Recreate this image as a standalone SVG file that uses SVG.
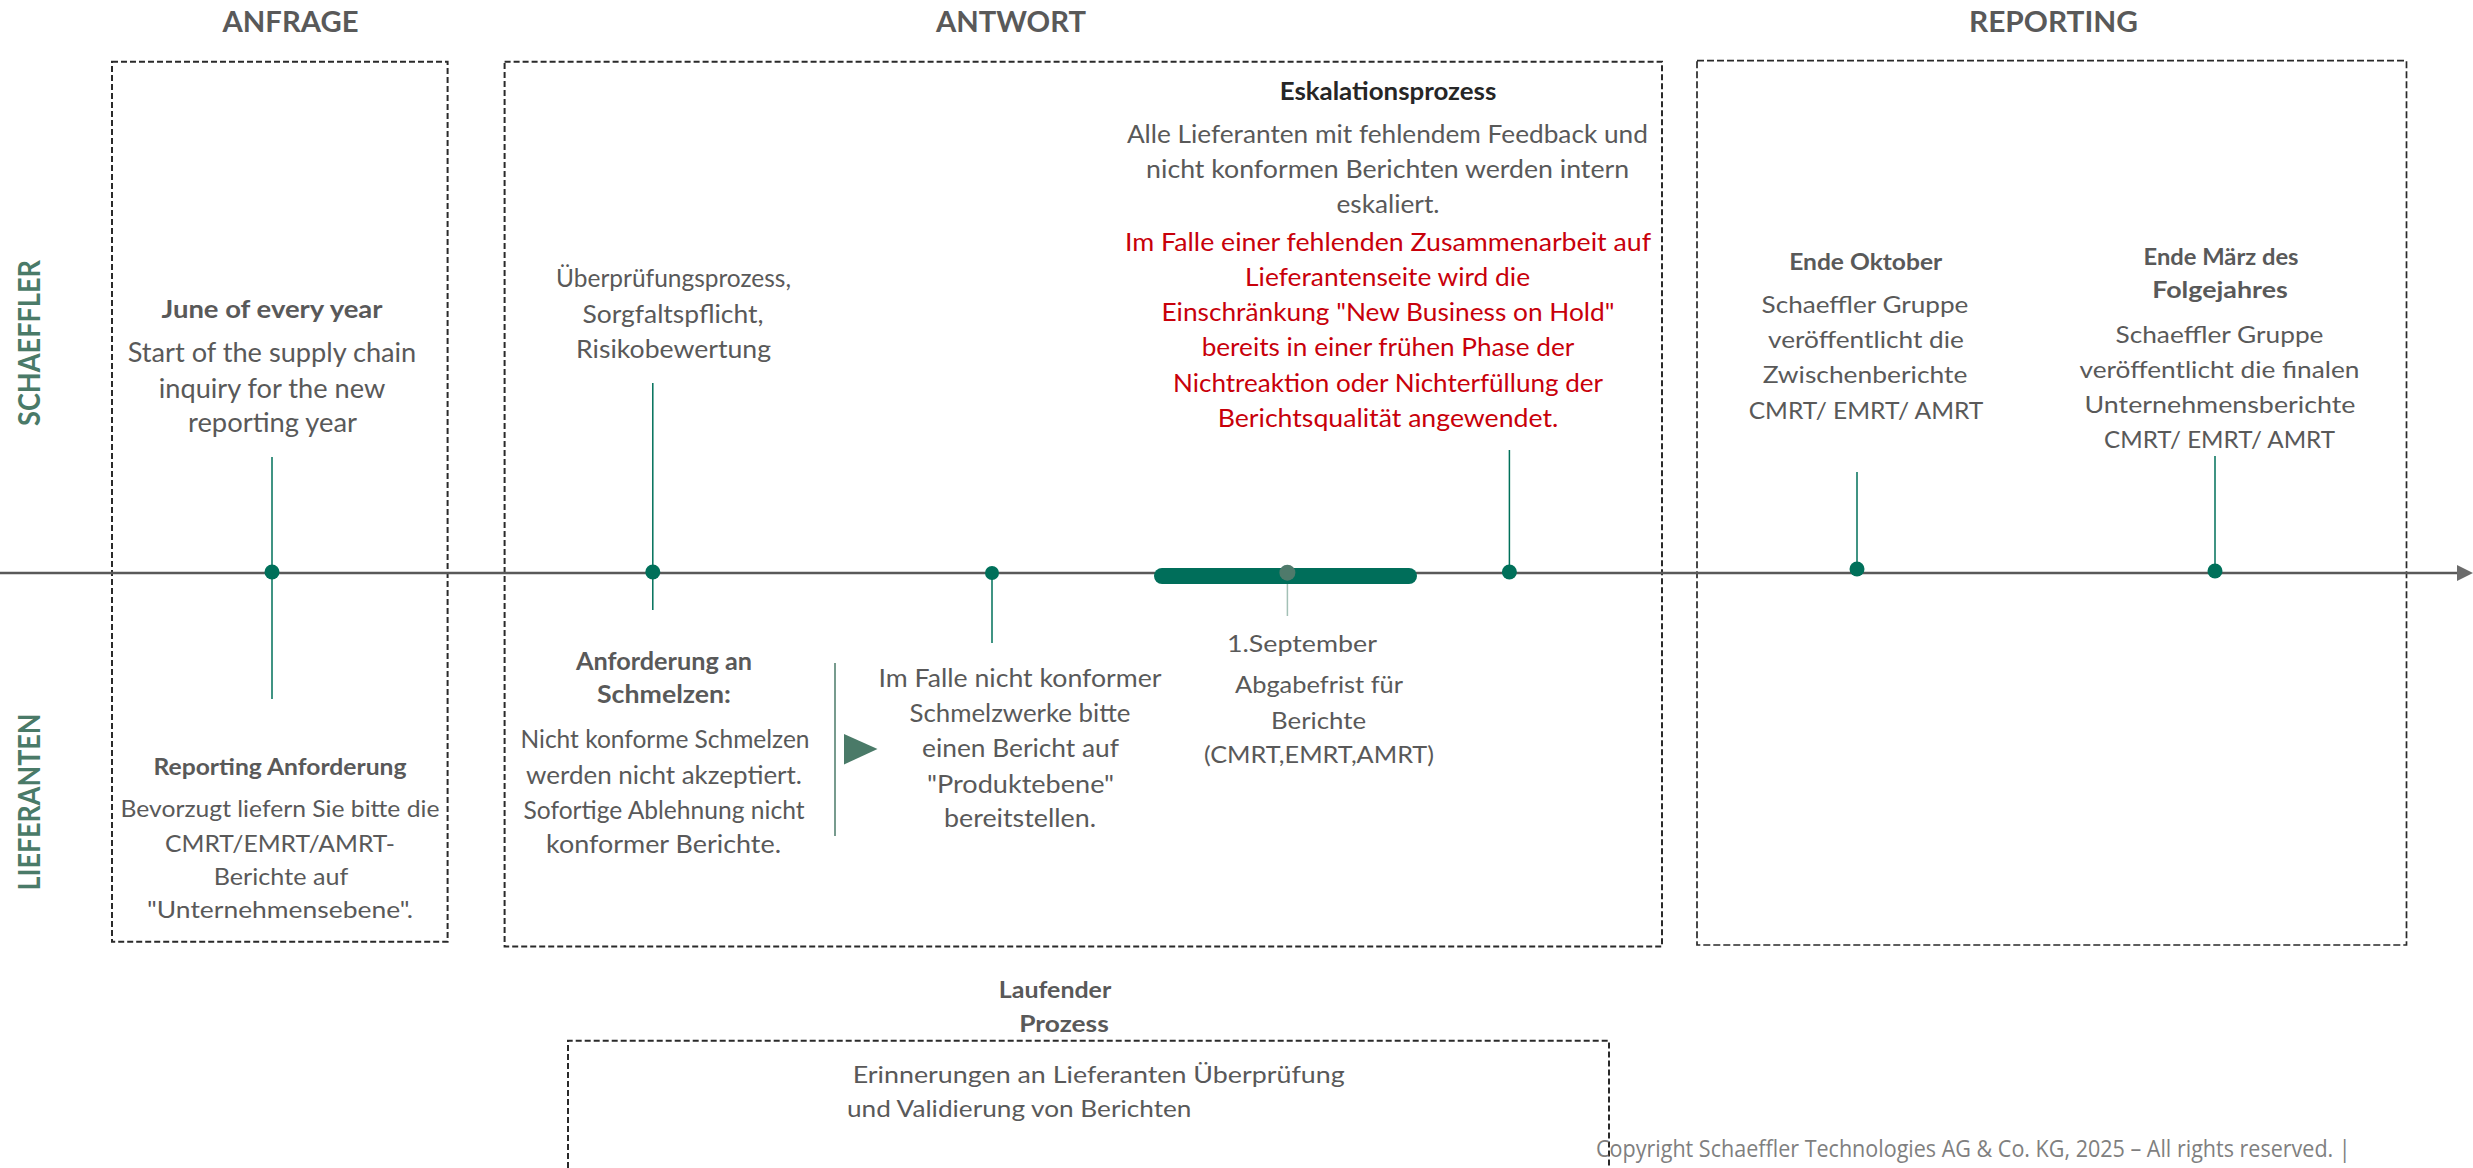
<svg xmlns="http://www.w3.org/2000/svg" width="2473" height="1168" viewBox="0 0 2473 1168">
<style>
text{font-family:Lato,"Liberation Sans",sans-serif;fill:#595959;text-anchor:middle}
.h{font-size:28px;font-weight:700}
.side{font-size:30px;font-weight:700;fill:#4a7a68}
.t{font-size:24.5px}
.ts{font-size:23.5px}
.b{font-weight:700}
.dk{fill:#262626}
.red{fill:#c8000a}
.l{text-anchor:start}
.box{fill:none;stroke:#2a2a2a;stroke-width:2;stroke-dasharray:6 3}
.stem{stroke:#00705a;stroke-width:1.5;fill:none}
.dot{fill:#00705a}
.copy{font-family:"Open Sans","Liberation Sans",sans-serif;font-size:23px;fill:#7f7f7f;text-anchor:start}
</style>

<g id="headers">
<text class="h" x="290.5" y="32" textLength="136" lengthAdjust="spacingAndGlyphs">ANFRAGE</text>
<text class="h" x="1011" y="32" textLength="150" lengthAdjust="spacingAndGlyphs">ANTWORT</text>
<text class="h" x="2053.5" y="32" textLength="169" lengthAdjust="spacingAndGlyphs">REPORTING</text>
<text class="side" transform="translate(39.5,343) rotate(-90)" textLength="166" lengthAdjust="spacingAndGlyphs">SCHAEFFLER</text>
<text class="side" transform="translate(39.5,802) rotate(-90)" textLength="177" lengthAdjust="spacingAndGlyphs">LIEFERANTEN</text>
</g>

<g id="phase-boxes">
<rect id="box-anfrage" class="box" x="112" y="61.7" width="335.6" height="880"/>
<rect id="box-antwort" class="box" x="504.6" y="61.7" width="1157.4" height="884.8"/>
<rect id="box-reporting" class="box" x="1697" y="60.7" width="709.5" height="884.3" style="stroke-width:1.7;stroke-dasharray:7 3"/>
<path id="box-ongoing" class="box" d="M568,1168 V1040.7 H1609 V1168"/>
</g>

<g id="connectors">
<line x1="0" y1="573" x2="2459" y2="573" stroke="#595959" stroke-width="2.6"/>
<polygon points="2457,565 2473,573 2457,581" fill="#6b6b6b"/>
<line class="stem" x1="272" y1="457" x2="272" y2="699"/>
<line class="stem" x1="652.8" y1="383" x2="652.8" y2="610"/>
<line class="stem" x1="992" y1="573" x2="992" y2="643"/>
<line class="stem" x1="1509.4" y1="450" x2="1509.4" y2="572"/>
<line class="stem" x1="1857" y1="472" x2="1857" y2="569"/>
<line class="stem" x1="2215" y1="456" x2="2215" y2="571"/>
<line x1="1287.4" y1="576" x2="1287.4" y2="616" stroke="#a3c0b6" stroke-width="1.5"/>
<line x1="835" y1="663" x2="835" y2="836" stroke="#4a7a68" stroke-width="1.5"/>
<polygon points="844,734 877.5,749 844,764.5" fill="#4a7a68"/>
<line x1="1162" y1="576" x2="1409" y2="576" stroke="#006e5a" stroke-width="16" stroke-linecap="round"/>
</g>

<g id="markers">
<circle class="dot" cx="272" cy="572" r="7.5"/>
<circle class="dot" cx="652.8" cy="572" r="7.5"/>
<circle class="dot" cx="992" cy="573" r="7"/>
<circle class="dot" cx="1509.4" cy="572" r="7.5"/>
<circle class="dot" cx="1857" cy="569" r="7.5"/>
<circle class="dot" cx="2215" cy="571" r="7.5"/>
<circle cx="1287.4" cy="572.7" r="8" fill="#4f7a6b"/>
</g>

<g id="n-june">
<text class="t b" x="272" y="318" textLength="221" lengthAdjust="spacingAndGlyphs">June of every year</text>
<text class="t" x="272" y="361.7" textLength="288.6" lengthAdjust="spacingAndGlyphs" style="font-size:26px">Start of the supply chain</text>
<text class="t" x="272" y="398" textLength="226.5" lengthAdjust="spacingAndGlyphs" style="font-size:26px">inquiry for the new</text>
<text class="t" x="272.5" y="432" textLength="169" lengthAdjust="spacingAndGlyphs" style="font-size:26px">reporting year</text>
</g>

<g id="n-reporting-requirement">
<text class="ts b" x="280" y="775" textLength="253" lengthAdjust="spacingAndGlyphs">Reporting Anforderung</text>
<text class="ts" x="280" y="816.7" textLength="319" lengthAdjust="spacingAndGlyphs">Bevorzugt liefern Sie bitte die</text>
<text class="ts" x="280" y="851.7" textLength="230" lengthAdjust="spacingAndGlyphs">CMRT/EMRT/AMRT-</text>
<text class="ts" x="281" y="885" textLength="134.5" lengthAdjust="spacingAndGlyphs">Berichte auf</text>
<text class="ts" x="280" y="918" textLength="266" lengthAdjust="spacingAndGlyphs">"Unternehmensebene".</text>
</g>

<g id="n-review">
<text class="t" x="673.5" y="287" textLength="235" lengthAdjust="spacingAndGlyphs">Überprüfungsprozess,</text>
<text class="t" x="673" y="323" textLength="181" lengthAdjust="spacingAndGlyphs">Sorgfaltspflicht,</text>
<text class="t" x="673.5" y="358" textLength="195" lengthAdjust="spacingAndGlyphs">Risikobewertung</text>
</g>

<g id="n-smelter">
<text class="t b" x="664" y="670" textLength="176" lengthAdjust="spacingAndGlyphs" style="font-size:25.5px">Anforderung an</text>
<text class="t b" x="664" y="703" textLength="134" lengthAdjust="spacingAndGlyphs" style="font-size:25.5px">Schmelzen:</text>
<text class="t" x="665" y="748" textLength="289" lengthAdjust="spacingAndGlyphs" style="font-size:25.5px">Nicht konforme Schmelzen</text>
<text class="t" x="664" y="784" textLength="276" lengthAdjust="spacingAndGlyphs" style="font-size:25.5px">werden nicht akzeptiert.</text>
<text class="t" x="664" y="819" textLength="281" lengthAdjust="spacingAndGlyphs" style="font-size:25.5px">Sofortige Ablehnung nicht</text>
<text class="t" x="663.5" y="853" textLength="235" lengthAdjust="spacingAndGlyphs" style="font-size:25.5px">konformer Berichte.</text>
</g>

<g id="n-product-level">
<text class="t" x="1020" y="686.7" textLength="283" lengthAdjust="spacingAndGlyphs">Im Falle nicht konformer</text>
<text class="t" x="1020" y="721.7" textLength="221" lengthAdjust="spacingAndGlyphs">Schmelzwerke bitte</text>
<text class="t" x="1020.5" y="757" textLength="197" lengthAdjust="spacingAndGlyphs">einen Bericht auf</text>
<text class="t" x="1020.5" y="792.7" textLength="187" lengthAdjust="spacingAndGlyphs">"Produktebene"</text>
<text class="t" x="1020" y="827" textLength="152" lengthAdjust="spacingAndGlyphs">bereitstellen.</text>
</g>

<g id="n-deadline">
<text class="ts" x="1302" y="651.7" textLength="150" lengthAdjust="spacingAndGlyphs">1.September</text>
<text class="ts" x="1319" y="693" textLength="168" lengthAdjust="spacingAndGlyphs">Abgabefrist für</text>
<text class="ts" x="1318.6" y="729" textLength="95" lengthAdjust="spacingAndGlyphs">Berichte</text>
<text class="ts" x="1319" y="763" textLength="230" lengthAdjust="spacingAndGlyphs">(CMRT,EMRT,AMRT)</text>
</g>

<g id="n-escalation">
<text class="t b dk" x="1388" y="100" textLength="216.6" lengthAdjust="spacingAndGlyphs">Eskalationsprozess</text>
<text class="t" x="1387.4" y="142.7" textLength="521" lengthAdjust="spacingAndGlyphs">Alle Lieferanten mit fehlendem Feedback und</text>
<text class="t" x="1387.6" y="178.3" textLength="483" lengthAdjust="spacingAndGlyphs">nicht konformen Berichten werden intern</text>
<text class="t" x="1388" y="212.7" textLength="103" lengthAdjust="spacingAndGlyphs">eskaliert.</text>
<text class="t red" x="1388" y="250.7" textLength="526" lengthAdjust="spacingAndGlyphs">Im Falle einer fehlenden Zusammenarbeit auf</text>
<text class="t red" x="1387.6" y="286" textLength="285" lengthAdjust="spacingAndGlyphs">Lieferantenseite wird die</text>
<text class="t red" x="1388" y="320.7" textLength="453" lengthAdjust="spacingAndGlyphs">Einschränkung "New Business on Hold"</text>
<text class="t red" x="1388" y="356" textLength="372.7" lengthAdjust="spacingAndGlyphs">bereits in einer frühen Phase der</text>
<text class="t red" x="1388" y="391.7" textLength="430" lengthAdjust="spacingAndGlyphs">Nichtreaktion oder Nichterfüllung der</text>
<text class="t red" x="1388" y="426.7" textLength="340.6" lengthAdjust="spacingAndGlyphs">Berichtsqualität angewendet.</text>
</g>

<g id="n-october">
<text class="ts b" x="1865.7" y="270" textLength="153" lengthAdjust="spacingAndGlyphs">Ende Oktober</text>
<text class="ts" x="1865" y="313" textLength="206.8" lengthAdjust="spacingAndGlyphs">Schaeffler Gruppe</text>
<text class="ts" x="1866" y="348" textLength="196" lengthAdjust="spacingAndGlyphs">veröffentlicht die</text>
<text class="ts" x="1865" y="383" textLength="204.7" lengthAdjust="spacingAndGlyphs">Zwischenberichte</text>
<text class="ts" x="1866" y="419" textLength="234.6" lengthAdjust="spacingAndGlyphs">CMRT/ EMRT/ AMRT</text>
</g>

<g id="n-march">
<text class="ts b" x="2221" y="265" textLength="155" lengthAdjust="spacingAndGlyphs">Ende März des</text>
<text class="ts b" x="2220" y="298.3" textLength="135.5" lengthAdjust="spacingAndGlyphs">Folgejahres</text>
<text class="ts" x="2219.5" y="342.7" textLength="208" lengthAdjust="spacingAndGlyphs">Schaeffler Gruppe</text>
<text class="ts" x="2219.5" y="378.3" textLength="280" lengthAdjust="spacingAndGlyphs">veröffentlicht die finalen</text>
<text class="ts" x="2220" y="413.3" textLength="271" lengthAdjust="spacingAndGlyphs">Unternehmensberichte</text>
<text class="ts" x="2219.5" y="448.3" textLength="231" lengthAdjust="spacingAndGlyphs">CMRT/ EMRT/ AMRT</text>
</g>

<g id="n-ongoing">
<text class="ts b" x="1055" y="998.3" textLength="112.5" lengthAdjust="spacingAndGlyphs">Laufender</text>
<text class="ts b" x="1064" y="1031.7" textLength="89.5" lengthAdjust="spacingAndGlyphs">Prozess</text>
<text class="ts l" x="852.7" y="1083.3" textLength="492" lengthAdjust="spacingAndGlyphs">Erinnerungen an Lieferanten Überprüfung</text>
<text class="ts l" x="847" y="1116.7" textLength="344.4" lengthAdjust="spacingAndGlyphs">und Validierung von Berichten</text>
</g>

<g id="footer">
<text class="copy" x="1596" y="1157.3" textLength="754.7" lengthAdjust="spacingAndGlyphs">Copyright Schaeffler Technologies AG &amp; Co. KG, 2025 – All rights reserved. |</text>
</g>
</svg>
